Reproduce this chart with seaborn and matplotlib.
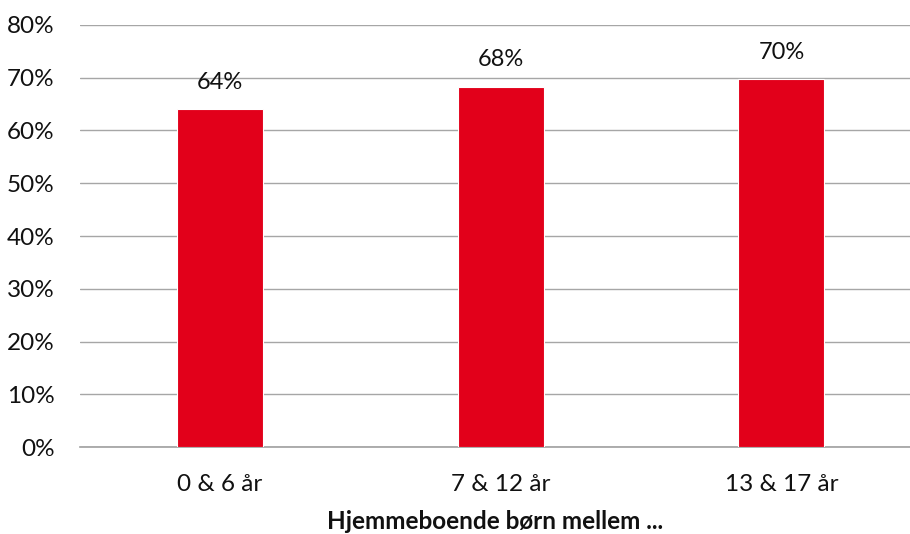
import matplotlib
matplotlib.use("Agg")
import matplotlib.pyplot as plt
import seaborn as sns
import pandas as pd
from matplotlib.ticker import PercentFormatter, MultipleLocator

# Share of respondents, by age group of children living at home (percent)
categories = ["0 & 6 år", "7 & 12 år", "13 & 17 år"]
shares = [64.0, 68.2, 69.7]
x_title = "Hjemmeboende børn mellem ..."

sns.set_theme(style="white")
plt.rcParams["font.family"] = ["Lato", "DejaVu Sans"]

df = pd.DataFrame({"group": categories, "share": shares})

fig = plt.figure(figsize=(9.10, 5.34), dpi=100)
ax = fig.add_axes([0.0875, 0.1624, 0.9125, 0.7913])

sns.barplot(data=df, x="group", y="share", color="#E2001A", width=0.306,
            saturation=1, edgecolor="white", linewidth=0.8, ax=ax, zorder=3)

ax.set_ylim(0, 80)
ax.set_xlim(-0.5, 2.458)
ax.yaxis.set_major_locator(MultipleLocator(10))
ax.yaxis.set_major_formatter(PercentFormatter(decimals=0))
ax.grid(axis="y", color="#a6a6a6", linewidth=1.0, zorder=0)
ax.set_axisbelow(True)

for s in ["top", "right", "left"]:
    ax.spines[s].set_visible(False)
ax.spines["bottom"].set_color("#a0a0a0")
ax.spines["bottom"].set_linewidth(1.2)

ax.tick_params(axis="y", length=0, pad=18, labelsize=17.5, labelcolor="#111111")
ax.tick_params(axis="x", length=0, pad=19, labelsize=17.5, labelcolor="#111111")

ax.set_ylabel("")
ax.set_xlabel(x_title, fontsize=17.5, fontweight="bold", color="#111111", labelpad=11)

for i, v in enumerate(shares):
    ax.annotate(f"{v:.0f}%", xy=(i, v), xytext=(0, 19.5), textcoords="offset points",
                ha="center", va="center", fontsize=17, color="#111111")

fig.savefig("out.png", dpi=100)
